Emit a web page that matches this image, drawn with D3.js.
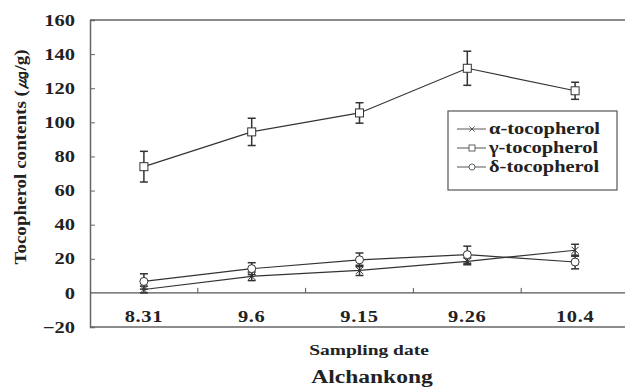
<!DOCTYPE html>
<html>
<head>
<meta charset="utf-8">
<script src="https://cdn.jsdelivr.net/npm/d3@7"></script>
<style>
  body { margin: 0; background: #fff; }
</style>
</head>
<body>
<div id="chart"></div>
<script>
var svgWidth = 625;
var svgHeight = 388;

// plot frame runs past the right edge of the picture
var margin = { top: 20, right: -4, bottom: 61, left: 90 };
var width = svgWidth - margin.left - margin.right;
var height = svgHeight - margin.top - margin.bottom;

var dates = ["8.31", "9.6", "9.15", "9.26", "10.4"];
var yTicks = [-20, 0, 20, 40, 60, 80, 100, 120, 140, 160];

var alphaMean = [2, 9.7, 13.2, 18.5, 25];
var alphaErr = [2, 2.5, 3, 2, 3.5];
var gammaMean = [74, 94.4, 105.5, 131.7, 118.5];
var gammaErr = [9, 8, 6, 10, 5];
var deltaMean = [6.7, 14.2, 19.4, 22.4, 18.1];
var deltaErr = [4.5, 3.5, 4, 5, 4];

var seriesNames = ["α-tocopherol", "γ-tocopherol", "δ-tocopherol"];
var seriesShapes = ["cross", "square", "circle"];

var series = [
  { name: seriesNames[0], shape: seriesShapes[0], mean: alphaMean, err: alphaErr },
  { name: seriesNames[1], shape: seriesShapes[1], mean: gammaMean, err: gammaErr },
  { name: seriesNames[2], shape: seriesShapes[2], mean: deltaMean, err: deltaErr }
];

var ink = "#333";
var serif = "'Liberation Serif', 'Times New Roman', serif";

// the source type is a wide bold serif, so stretch glyphs sideways
function styleText(sel, size, sx) {
  sel.style("font-family", serif)
    .style("font-weight", "bold")
    .style("font-size", size + "px")
    .attr("fill", "#222");
  sel.each(function() {
    var t = d3.select(this);
    var x = +t.attr("x") || 0;
    t.attr("x", x / sx).attr("transform", `scale(${sx},1)`);
  });
  return sel;
}

var svg = d3.select("#chart")
  .append("svg")
  .attr("width", svgWidth)
  .attr("height", svgHeight);

var chartGroup = svg.append("g")
  .attr("transform", `translate(${margin.left}, ${margin.top})`);

var xBand = d3.scaleBand()
  .domain(dates)
  .range([0, width]);

var yScale = d3.scaleLinear()
  .domain([-20, 160])
  .range([height, 0]);

// frame: top and bottom lines
chartGroup.append("line")
  .attr("x1", 0).attr("x2", width)
  .attr("y1", 0).attr("y2", 0)
  .attr("stroke", "#666").attr("stroke-width", 1.5);
chartGroup.append("line")
  .attr("x1", 0).attr("x2", width)
  .attr("y1", height).attr("y2", height)
  .attr("stroke", "#666").attr("stroke-width", 1.5);

// y axis, ticks pointing inward
var leftAxis = d3.axisLeft(yScale)
  .tickValues(yTicks)
  .tickSize(-5)
  .tickPadding(15);

var yAxis = chartGroup.append("g").call(leftAxis);
yAxis.select(".domain").attr("stroke", "#666").attr("stroke-width", 1.5);
yAxis.selectAll(".tick line").attr("stroke", "#666");
yAxis.selectAll(".tick").filter(d => d === 160 || d === 0 || d === -20).select("line").remove();
styleText(yAxis.selectAll("text"), 16, 1.28);

// x axis sits on zero, band boundary ticks point up
var zeroY = yScale(0);
chartGroup.append("line")
  .attr("x1", 0).attr("x2", width)
  .attr("y1", zeroY).attr("y2", zeroY)
  .attr("stroke", "#555").attr("stroke-width", 1.2);

chartGroup.selectAll(".band-tick")
  .data(dates.slice(1))
  .enter()
  .append("line")
  .attr("x1", d => xBand(d)).attr("x2", d => xBand(d))
  .attr("y1", zeroY).attr("y2", zeroY - 5)
  .attr("stroke", "#555");

styleText(chartGroup.selectAll(".date-label")
  .data(dates)
  .enter()
  .append("text")
  .attr("x", d => xBand(d) + xBand.bandwidth() / 2)
  .attr("y", zeroY + 29)
  .attr("text-anchor", "middle")
  .style("letter-spacing", "0.5px")
  .text(d => d), 16, 1.28);

var xPos = i => xBand(dates[i]) + xBand.bandwidth() / 2;

var line = d3.line()
  .x((d, i) => xPos(i))
  .y(d => yScale(d));

function drawMarker(g, shape, x, y) {
  if (shape === "square") {
    g.append("rect")
      .attr("x", x - 4).attr("y", y - 4)
      .attr("width", 8).attr("height", 8)
      .attr("fill", "#fff").attr("stroke", ink).attr("stroke-width", 1);
  } else if (shape === "circle") {
    g.append("circle")
      .attr("cx", x).attr("cy", y).attr("r", 4)
      .attr("fill", "#fff").attr("stroke", ink).attr("stroke-width", 1);
  } else {
    g.append("path")
      .attr("d", `M${x - 3.5},${y - 3.5}L${x + 3.5},${y + 3.5}M${x - 3.5},${y + 3.5}L${x + 3.5},${y - 3.5}`)
      .attr("stroke", ink).attr("stroke-width", 1);
  }
}

series.forEach(function(s) {
  var g = chartGroup.append("g");

  g.append("path")
    .datum(s.mean)
    .attr("d", line)
    .attr("fill", "none")
    .attr("stroke", ink)
    .attr("stroke-width", 1.2);

  // error bars
  s.mean.forEach(function(m, i) {
    var x = xPos(i);
    var top = yScale(m + s.err[i]);
    var bot = yScale(m - s.err[i]);
    g.append("line")
      .attr("x1", x).attr("x2", x).attr("y1", top).attr("y2", bot)
      .attr("stroke", ink).attr("stroke-width", 1.5);
    g.append("line")
      .attr("x1", x - 4).attr("x2", x + 4).attr("y1", top).attr("y2", top)
      .attr("stroke", ink).attr("stroke-width", 1.5);
    g.append("line")
      .attr("x1", x - 4).attr("x2", x + 4).attr("y1", bot).attr("y2", bot)
      .attr("stroke", ink).attr("stroke-width", 1.5);
  });

  s.mean.forEach(function(m, i) {
    drawMarker(g, s.shape, xPos(i), yScale(m));
  });
});

// legend
var legend = svg.append("g")
  .attr("transform", "translate(448, 111)");

legend.append("rect")
  .attr("width", 169).attr("height", 79)
  .attr("fill", "#fff").attr("stroke", "#555").attr("stroke-width", 1.2);

series.forEach(function(s, i) {
  var ly = 18 + i * 19;
  var row = legend.append("g");
  row.append("line")
    .attr("x1", 9).attr("x2", 38).attr("y1", ly).attr("y2", ly)
    .attr("stroke", "#555").attr("stroke-width", 1);
  var mg = row.append("g").attr("transform", `translate(${24}, ${ly}) scale(0.75)`);
  drawMarker(mg, s.shape, 0, 0);
  styleText(row.append("text")
    .attr("x", 41).attr("y", ly + 5)
    .text(s.name), 16, 1.28);
});

// axis titles
var yTitle = svg.append("g").attr("transform", "translate(26, 157) rotate(-90)");
styleText(yTitle.append("text")
  .attr("text-anchor", "middle")
  .text("Tocopherol contents (㎍/g)"), 16, 1.19);

styleText(svg.append("text")
  .attr("x", 369).attr("y", 355)
  .attr("text-anchor", "middle")
  .text("Sampling date"), 15, 1.3);

styleText(svg.append("text")
  .attr("x", 372).attr("y", 383)
  .attr("text-anchor", "middle")
  .text("Alchankong"), 19, 1.24);
</script>
</body>
</html>
